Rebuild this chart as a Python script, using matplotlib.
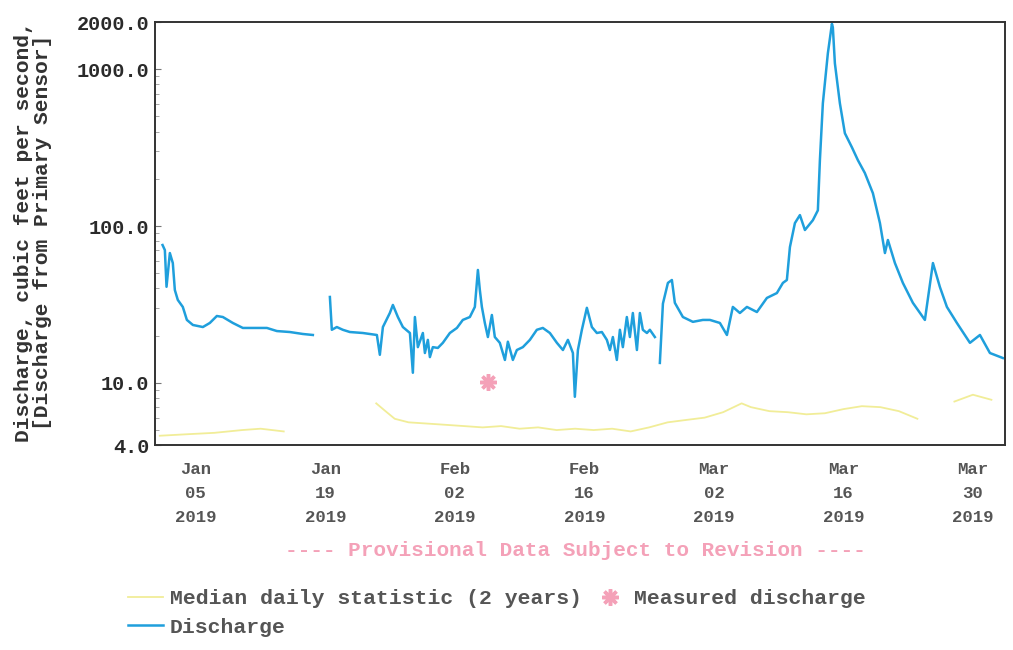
import numpy as np
import pandas as pd
import matplotlib
matplotlib.use("Agg")
import matplotlib.pyplot as plt
import matplotlib.dates as mdates
from matplotlib.lines import Line2D

start = pd.Timestamp("2019-01-01")

# discharge, days after Jan 1 2019 (nan = gap in record)
q_day = [0.40, 0.65, 0.83, 1.19, 1.51, 1.73, 2.05, 2.59, 3.03, 3.68, 4.76, 5.51, 6.27, 6.92,
         8.00, 9.08, 10.59, 11.68, 12.76, 14.16, 15.57, 16.65, 17.5,
         18.49, 18.70, 19.24, 19.89, 20.65, 22.05, 23.57, 23.89, 24.22, 24.97, 25.30, 25.84,
         26.38, 27.14, 27.46, 27.68, 28.00, 28.54, 28.76, 29.08, 29.30, 29.62, 30.16, 30.70,
         31.46, 32.22, 32.86, 33.62, 34.16, 34.49, 34.70, 34.92, 35.24, 35.57, 36.00, 36.32,
         36.86, 37.41, 37.73, 38.27, 38.70, 39.35, 40.11, 40.86, 41.51, 42.27, 43.03, 43.68,
         44.22, 44.76, 44.97, 45.30, 45.73, 46.27, 46.81, 47.35, 47.89, 48.43, 48.76, 49.08,
         49.51, 49.84, 50.16, 50.59, 50.92, 51.24, 51.68, 52.00, 52.32, 52.76, 53.08, 53.62, 53.9,
         54.16, 54.49, 55.03, 55.46, 55.78, 56.65, 57.73, 58.81, 59.57, 60.65, 61.41, 62.05,
         62.81, 63.57, 64.65, 65.73, 66.81, 67.46, 67.89, 68.22, 68.76, 69.30, 69.84, 70.70,
         71.24, 71.46, 71.78, 72.32, 72.76, 72.86, 73.08, 73.62, 74.16, 74.92, 75.57, 76.32,
         77.19, 77.95, 78.49, 78.81, 79.57, 80.43, 81.51, 82.81, 83.68, 84.43, 85.19, 86.27,
         87.68, 88.76, 89.84, 91.24]
q_cfs = [75.7, 70.3, 41.0, 67.3, 58.1, 39.1, 33.8, 30.5, 25.2, 23.4, 22.7, 24.1, 26.7, 26.3,
         24.1, 22.4, 22.4, 22.4, 21.4, 21.1, 20.5, 20.2, np.nan,
         35.3, 21.8, 22.7, 21.8, 21.1, 20.8, 20.2, 15.1, 22.7, 27.9, 31.4, 26.3,
         22.7, 20.8, 11.6, 26.3, 16.9, 20.8, 15.5, 18.8, 14.6, 16.9, 16.7, 18.0,
         20.8, 22.4, 25.2, 26.3, 30.5, 52.5, 39.1, 30.5, 24.1, 19.6, 27.1, 19.6,
         18.0, 14.0, 18.3, 14.0, 16.2, 16.9, 18.8, 21.8, 22.4, 20.8, 18.0, 16.2,
         18.8, 15.5, 8.15, 16.2, 21.8, 30.1, 22.7, 20.8, 21.1, 18.8, 16.2, 19.6,
         14.0, 21.8, 16.9, 26.3, 19.6, 27.9, 16.2, 27.9, 21.8, 20.8, 21.8, 19.6, np.nan,
         13.4, 32.0, 43.4, 45.3, 32.4, 26.3, 24.5, 25.2, 25.2, 24.1, 20.2, 30.5,
         27.9, 30.5, 28.3, 34.8, 37.4, 43.4, 45.3, 73.5, 104.5, 117.5, 94.4, 109.0,
         126.0, 263.0, 607.0, 1264.0, 1950.0, 1850.0, 1092.0, 607.0, 391.0, 318.0, 263.0, 218.0,
         162.0, 104.5, 67.3, 81.5, 58.1, 43.4, 32.4, 25.2, 58.1, 40.9, 30.5, 24.1,
         18.0, 20.2, 15.5, 14.4]

# median daily statistic (2 years)
med_day = [0.1, 3, 6, 9, 11, 13.5, 18,
           23.5, 24.5, 25.5, 27, 29, 31, 33, 35, 37, 39, 41, 43, 45, 47, 49, 51, 53, 55, 57,
           59, 61, 63, 64, 66, 68, 70, 72, 74, 76, 78, 80, 82, 84,
           86, 88, 90]
med_cfs = [4.6, 4.7, 4.8, 5.0, 5.1, 4.9, np.nan,
           7.4, 6.6, 5.9, 5.6, 5.5, 5.4, 5.3, 5.2, 5.3, 5.1, 5.2, 5.0, 5.1, 5.0, 5.1, 4.9, 5.2,
           5.6, 5.8, 6.0, 6.5, 7.4, 7.0, 6.6, 6.5, 6.3, 6.4, 6.8, 7.1, 7.0, 6.6, 5.9, np.nan,
           7.6, 8.4, 7.8]

# field measurement
meas_day = [35.57]
meas_cfs = [10.1]

y_ticks = [4, 10, 100, 1000, 2000]
x_ticks = ["2019-01-05", "2019-01-19", "2019-02-02", "2019-02-16",
           "2019-03-02", "2019-03-16", "2019-03-30"]

blue = "#1f9fdc"
pink = "#f4a1b8"
yellow = "#f1ed98"
font = "Liberation Mono"

q_t = start + pd.to_timedelta(q_day, unit="D")
med_t = start + pd.to_timedelta(med_day, unit="D")
meas_t = start + pd.to_timedelta(meas_day, unit="D")

fig = plt.figure(figsize=(10.13, 6.5), dpi=100)
ax = fig.add_axes([0.153, 0.315, 0.839, 0.651])

ax.plot(med_t, med_cfs, color=yellow, lw=1.3)
ax.plot(q_t, q_cfs, color=blue, lw=1.8)
ax.plot(meas_t, meas_cfs, ls="none", marker=(8, 2, 0), ms=12, mew=2.5, color=pink)

ax.set_yscale("log")
ax.set_ylim(4, 2000)
ax.set_yticks(y_ticks)
ax.set_yticklabels([f"{v:.1f}" for v in y_ticks])
ax.set_xlim(pd.Timestamp("2018-12-31 14:00"), pd.Timestamp("2019-04-02 11:00"))
ax.set_xticks(pd.to_datetime(x_ticks))
ax.xaxis.set_major_formatter(mdates.DateFormatter("%b\n%d\n%Y"))

for s in ax.spines.values():
    s.set_color("#333333")
    s.set_linewidth(1.4)
ax.tick_params(axis="y", which="major", length=4, direction="in", color="#777777",
               labelsize=14.6, labelcolor="#2a2a2a", pad=4)
ax.tick_params(axis="y", which="minor", length=3, direction="in", color="#999999")
ax.tick_params(axis="x", length=0, labelsize=12.5, labelcolor="#555555", pad=12)
for lab in ax.get_xticklabels() + ax.get_yticklabels():
    lab.set_fontfamily(font)
    lab.set_fontweight("bold")
for lab in ax.get_xticklabels():
    lab.set_linespacing(1.75)

fig.text(33 / 1013, 1 - 232 / 650,
         "Discharge, cubic feet per second,\n[Discharge from Primary Sensor]",
         rotation=90, ha="center", va="center", multialignment="center",
         fontsize=15.3, fontweight="bold", family=font, color="#333333", linespacing=1.0)

fig.text(575 / 1013, 1 - 551 / 650, "---- Provisional Data Subject to Revision ----",
         ha="center", va="center", fontsize=15.1, fontweight="bold", family=font, color=pink)

handles = [Line2D([], [], color=yellow, lw=1.3),
           Line2D([], [], color=blue, lw=1.8),
           Line2D([], [], ls="none", marker=(8, 2, 0), ms=12, mew=2.5, color=pink)]
labels = ["Median daily statistic (2 years)", "Discharge", "Measured discharge"]
leg = fig.legend(handles, labels, loc="upper left", bbox_to_anchor=(128 / 1013, 1 - 589 / 650),
                 ncol=2, frameon=False, borderpad=0, borderaxespad=0, handlelength=1.65,
                 handletextpad=0.3, columnspacing=0.5, labelspacing=0.45,
                 prop={"family": font, "weight": "bold", "size": 15.4})
for t in leg.get_texts():
    t.set_color("#555555")

fig.savefig("out.png", dpi=100)
